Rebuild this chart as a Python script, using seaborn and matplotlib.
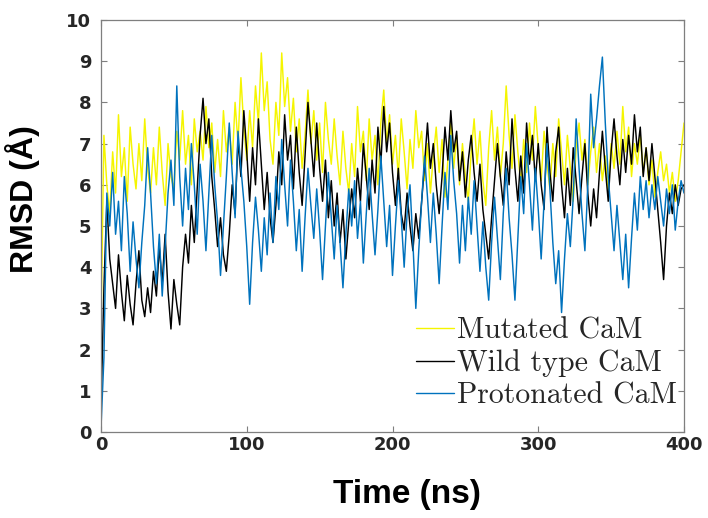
import numpy as np
import pandas as pd
import matplotlib
matplotlib.use("Agg")
import matplotlib.pyplot as plt
import seaborn as sns

step = 2
time_ns = list(range(0, 401, step))

mutated = [2.5, 7.2, 6.0, 5.3, 6.8, 5.8, 7.7, 6.2, 6.9, 5.6,
           7.4, 6.5, 5.9, 7.0, 6.1, 7.6, 6.4, 5.8, 6.9, 6.0,
           7.4, 6.3, 5.5, 7.0, 6.2, 5.9, 7.3, 6.6, 7.8, 6.5,
           7.2, 6.0, 7.6, 6.8, 7.3, 6.6, 7.9, 6.9, 7.5, 6.3,
           7.1, 6.2, 7.8, 6.8, 7.4, 6.5, 8.0, 7.0, 8.6, 7.4,
           6.6, 7.8, 6.9, 8.4, 7.5, 9.2, 7.8, 8.5, 7.1, 6.5,
           8.0, 7.2, 9.2, 7.9, 8.6, 7.3, 8.1, 6.8, 7.6, 6.4,
           7.2, 8.3, 7.0, 7.8, 6.6, 7.5, 6.3, 8.0, 7.1, 6.5,
           7.6, 6.7, 6.0, 7.3, 6.4, 5.8, 7.0, 6.2, 7.9, 6.8,
           7.3, 6.1, 7.6, 6.6, 7.2, 6.0, 7.5, 8.3, 7.0, 7.7,
           6.5, 7.2, 6.2, 7.6, 6.8, 5.9, 7.1, 6.4, 7.8, 6.9,
           7.3, 6.1, 7.0, 5.8, 6.7, 7.4, 6.3, 7.1, 5.7, 6.6,
           7.5, 6.4, 7.2, 6.0, 7.0, 6.2, 5.6, 6.8, 7.6, 6.5,
           7.3, 6.1, 5.5, 6.9, 7.8, 6.6, 7.4, 6.2, 7.0, 8.4,
           7.2, 6.4, 7.7, 6.8, 6.0, 7.1, 6.3, 7.5, 6.6, 7.9,
           6.9, 6.1, 7.3, 6.5, 5.9, 7.0, 6.2, 7.6, 6.8, 6.0,
           7.2, 6.4, 5.6, 6.9, 7.5, 6.6, 7.1, 6.0, 6.8, 7.4,
           6.3, 7.0, 6.1, 6.7, 5.8, 7.0, 6.4, 7.3, 6.5, 7.9,
           6.8, 7.4, 6.2, 7.0, 6.5, 7.2, 6.3, 6.9, 6.0, 6.6,
           5.7, 6.3, 6.8, 6.1, 6.5, 5.8, 6.3, 5.6, 6.1, 6.8,
           7.5]

wild_type = [0.5, 3.5, 5.6, 4.2, 3.6, 3.0, 4.3, 3.4, 2.7, 3.8,
             3.1, 2.6, 3.6, 4.4, 3.2, 2.8, 3.5, 2.9, 3.9, 3.3,
             4.5, 3.6, 4.8, 3.4, 2.5, 3.7, 3.1, 2.6, 4.0, 4.8,
             4.1, 5.5, 4.6, 5.9, 7.2, 8.1, 7.0, 7.6, 6.2, 5.4,
             4.5, 5.2, 4.3, 3.9, 4.8, 6.0, 5.3, 7.1, 6.2, 7.8,
             6.8, 5.6, 6.9, 6.0, 7.6, 6.5, 5.4, 6.3, 5.2, 4.6,
             5.5, 6.8, 6.0, 7.7, 6.6, 7.2, 5.9, 7.4, 6.3, 5.5,
             6.7, 8.0, 7.1, 6.2, 7.5, 6.4, 5.6, 6.6, 5.2, 6.1,
             5.0, 5.8, 4.6, 5.4, 4.2, 5.1, 5.9, 5.2, 6.4, 5.6,
             7.0, 6.2, 5.4, 6.6, 5.8, 7.4, 6.5, 7.9, 6.8, 7.5,
             6.3, 5.5, 6.4, 5.3, 4.9, 5.8, 5.0, 4.4, 5.3, 4.7,
             5.6, 6.5, 7.5, 6.4, 7.0, 6.0, 5.3, 6.2, 7.4, 6.6,
             7.8, 6.8, 7.3, 6.1, 6.8, 5.7, 6.6, 7.2, 6.3, 5.6,
             6.5, 5.4, 4.8, 4.2, 5.2, 6.1, 7.0, 6.2, 5.5, 6.8,
             6.0, 7.6, 6.4, 5.6, 6.7, 5.8, 7.5, 6.5, 7.2, 6.1,
             7.0, 6.0, 5.4, 7.4, 6.3, 5.6, 6.8, 7.4, 6.0, 5.2,
             6.4, 5.5, 6.9, 6.1, 5.3, 6.2, 7.0, 5.8, 5.0, 5.9,
             5.2, 6.3, 7.3, 6.4, 5.6, 6.8, 7.6, 6.7, 6.0, 7.1,
             6.3, 7.2, 6.5, 7.7, 6.8, 7.4, 6.2, 6.9, 6.1, 7.0,
             6.2, 5.4, 4.6, 3.7, 5.0, 5.8, 5.3, 6.0, 5.5, 5.9,
             6.0]

protonated = [0.1, 1.8, 5.8, 5.0, 6.3, 4.8, 5.6, 4.4, 6.2, 5.3,
              3.9, 5.1, 4.2, 3.5, 4.6, 5.5, 6.9, 5.8, 4.5, 3.6,
              4.8, 3.3, 4.5, 5.8, 6.6, 5.5, 8.4, 6.2, 5.0, 6.4,
              5.4, 7.0, 6.0, 4.8, 6.5, 5.6, 4.4, 5.8, 7.2, 6.0,
              5.1, 3.8, 5.0, 6.2, 7.5, 6.3, 5.2, 7.3, 6.4, 5.6,
              4.5, 3.1, 4.6, 5.7, 4.9, 3.9, 5.2, 4.3, 5.8, 4.6,
              6.2, 5.4, 7.1, 6.0, 5.0, 6.6, 5.6, 4.4, 5.4, 3.9,
              5.2, 6.4, 5.5, 4.7, 5.9, 4.9, 3.7, 5.0, 6.3, 5.2,
              4.2, 5.5, 4.6, 3.5, 4.8, 5.9, 5.0, 6.1, 4.7, 5.6,
              4.1, 5.3, 6.4, 5.3, 4.3, 5.4, 6.7, 5.6, 4.5, 5.5,
              3.8, 5.0, 6.1, 5.2, 4.0, 5.3, 6.0, 4.6, 3.0, 4.4,
              5.6, 6.7, 5.7, 4.6, 5.8, 4.8, 3.6, 5.0, 6.3, 5.4,
              7.2, 6.1, 5.3, 4.1, 5.5, 4.4, 5.7, 4.8, 6.1, 5.0,
              3.9, 5.1, 4.0, 3.2, 4.6, 5.7, 4.7, 3.7, 5.3, 6.4,
              5.2, 4.3, 3.2, 4.7, 6.2, 5.3, 7.0, 6.0, 4.9, 6.4,
              5.4, 4.2, 5.6, 7.0, 5.9, 4.6, 3.6, 4.4, 2.9, 4.2,
              5.3, 4.5, 5.7, 7.6, 6.4, 5.3, 4.4, 6.0, 8.2, 6.9,
              7.6, 8.4, 9.1, 7.5, 6.2, 5.3, 4.4, 5.5, 4.6, 3.7,
              4.8, 3.5, 4.7, 5.8, 4.9, 6.2, 5.4, 6.1, 5.2, 6.0,
              5.4, 6.2, 5.6, 5.0, 5.9, 5.3, 6.0, 4.9, 5.6, 6.1,
              5.8]

series_names = ["Mutated CaM", "Wild type CaM", "Protonated CaM"]
series_values = [mutated, wild_type, protonated]
series_colors = ["#F5F500", "#000000", "#0072BD"]

x_ticks = [0, 100, 200, 300, 400]
y_ticks = list(range(0, 11))

frames = []
for name, vals in zip(series_names, series_values):
    frames.append(pd.DataFrame({"Time": time_ns, "RMSD": vals, "System": name}))
df = pd.concat(frames, ignore_index=True)

sns.set_theme(style="white")
plt.rcParams["font.family"] = ["DejaVu Sans"]

fig = plt.figure(figsize=(7.08, 5.18), dpi=100)
ax = fig.add_axes([101 / 708, 1 - 432 / 518, 583 / 708, 412 / 518])

sns.lineplot(data=df, x="Time", y="RMSD", hue="System", hue_order=series_names,
             palette=dict(zip(series_names, series_colors)), linewidth=1.05,
             sort=False, estimator=None, ax=ax)

ax.set_xlim(0, 400)
ax.set_ylim(0, 10)
ax.set_xticks(x_ticks)
ax.set_yticks(y_ticks)
for lab in ax.get_xticklabels() + ax.get_yticklabels():
    lab.set_fontweight("bold")
    lab.set_fontsize(13)
    lab.set_color("#262626")
ax.tick_params(direction="in", length=4, width=0.8, color="#7f7f7f",
               top=True, right=True, bottom=True, left=True)
ax.tick_params(axis="y", pad=7)
ax.tick_params(axis="x", pad=3)
for sp in ax.spines.values():
    sp.set_color("#7f7f7f")
    sp.set_linewidth(0.9)

ax.set_xlabel("Time (ns)", family=["Liberation Sans Narrow", "Liberation Sans"],
              fontweight="bold", fontsize=24, color="black")
ax.xaxis.set_label_coords(0.525, -0.115)
ax.set_ylabel("RMSD (Å)", family=["Liberation Sans", "DejaVu Sans"],
              fontweight="bold", fontsize=23, color="black")
ax.yaxis.set_label_coords(-0.105, 0.565)

leg = ax.legend(loc="lower right", frameon=False,
                prop={"family": "cmr10", "size": 21.5},
                handlelength=1.28, handletextpad=0.1, labelspacing=0.16,
                borderaxespad=0.35, bbox_to_anchor=(1.026, 0.0))
for line in leg.get_lines():
    line.set_linewidth(1.0)

fig.savefig("out.png", dpi=100)
